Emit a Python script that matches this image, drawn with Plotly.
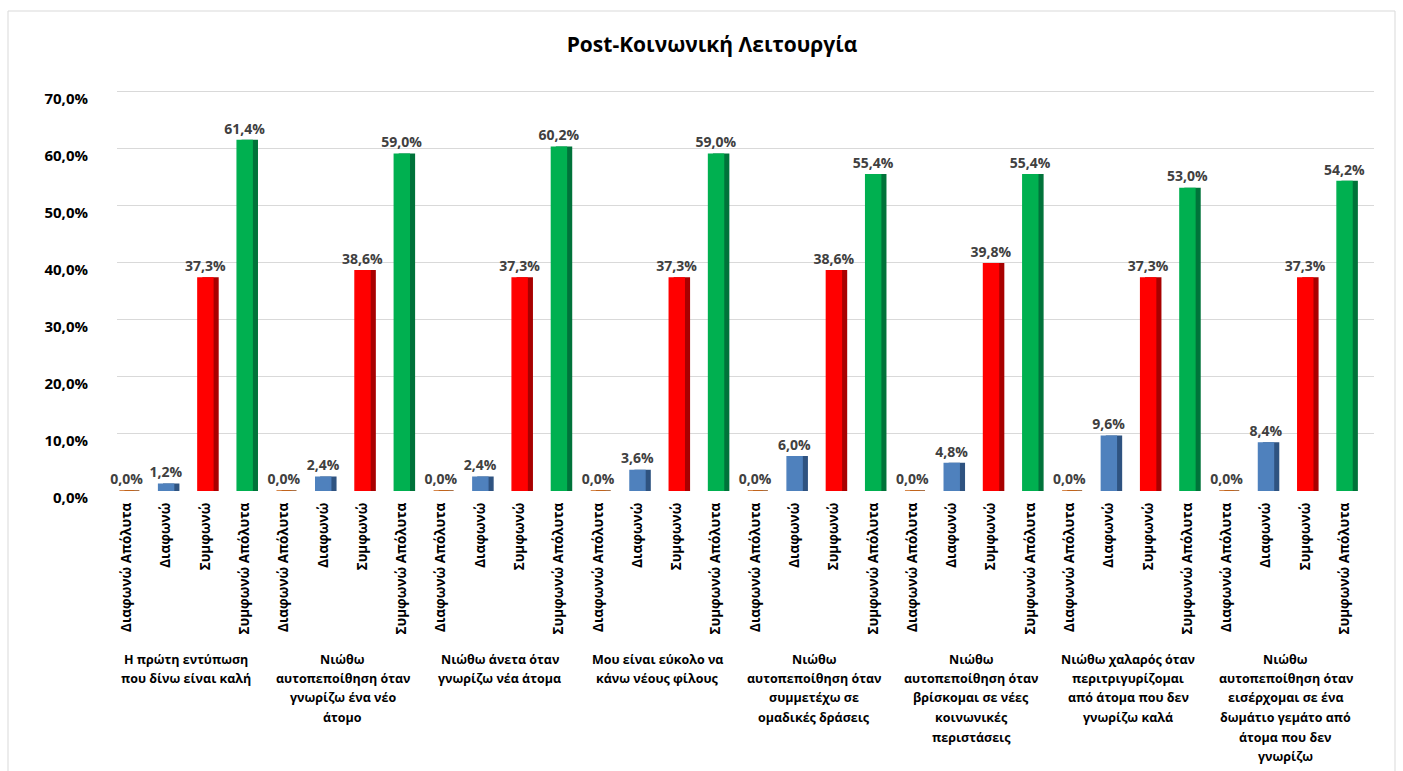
import plotly.graph_objects as go

# ---- data -------------------------------------------------------------
statements = [
    ["Η πρώτη εντύπωση", "που δίνω είναι καλή"],
    ["Νιώθω", "αυτοπεποίθηση όταν", "γνωρίζω ένα νέο", "άτομο"],
    ["Νιώθω άνετα όταν", "γνωρίζω νέα άτομα"],
    ["Μου είναι εύκολο να", "κάνω νέους φίλους"],
    ["Νιώθω", "αυτοπεποίθηση όταν", "συμμετέχω σε", "ομαδικές δράσεις"],
    ["Νιώθω", "αυτοπεποίθηση όταν", "βρίσκομαι σε νέες", "κοινωνικές", "περιστάσεις"],
    ["Νιώθω χαλαρός όταν", "περιτριγυρίζομαι", "από άτομα που δεν", "γνωρίζω καλά"],
    ["Νιώθω", "αυτοπεποίθηση όταν", "εισέρχομαι σε ένα", "δωμάτιο γεμάτο από", "άτομα που δεν", "γνωρίζω"],
]
responses = ["Διαφωνώ Απόλυτα", "Διαφωνώ", "Συμφωνώ", "Συμφωνώ Απόλυτα"]

diafono_apolyta = [0.0, 0.0, 0.0, 0.0, 0.0, 0.0, 0.0, 0.0]
diafono = [1.2, 2.4, 2.4, 3.6, 6.0, 4.8, 9.6, 8.4]
symfono = [37.3, 38.6, 37.3, 37.3, 38.6, 39.8, 37.3, 37.3]
symfono_apolyta = [61.4, 59.0, 60.2, 59.0, 55.4, 55.4, 53.0, 54.2]

y_ticks = [0, 10, 20, 30, 40, 50, 60, 70]
y_tick_text = [f"{v:.1f}%".replace(".", ",") for v in y_ticks]

# ---- style --------------------------------------------------------------
FONT = "Open Sans"
front_colors = ["#C9600F", "#4F81BD", "#FF0000", "#00B050"]
side_colors = ["#8E430A", "#2F5380", "#A80000", "#00733A"]

W, H = 1403, 771
M_L, M_R, M_T, M_B = 117, 29, 88, 280
PLOT_H = H - M_T - M_B
Y_MAX = 70.6

series = [diafono_apolyta, diafono, symfono, symfono_apolyta]
n_groups = len(statements)
n_resp = len(responses)

fig = go.Figure()

# darker side faces, drawn first so the front faces sit on top
for r, vals in enumerate(series):
    xs = [g * n_resp + r for g in range(n_groups)]
    fig.add_trace(go.Bar(
        x=xs, y=vals, width=0.38, offset=-0.06,
        marker=dict(color=side_colors[r], line=dict(color=side_colors[r], width=1.5)),
        hoverinfo="skip", showlegend=False,
    ))

# front faces with value labels
for r, vals in enumerate(series):
    xs = [g * n_resp + r for g in range(n_groups)]
    fig.add_trace(go.Bar(
        x=xs, y=vals, width=0.38, offset=-0.19,
        name=responses[r],
        marker=dict(color=front_colors[r], line=dict(color=front_colors[r], width=1.5)),
        text=vals, texttemplate="%{y:.1f}%", textposition="outside",
        constraintext="none",
        textfont=dict(family=FONT, size=14, color="#404040", weight="bold"),
        cliponaxis=False, showlegend=False,
    ))

tick_vals = list(range(n_groups * n_resp))
tick_text = [responses[i % n_resp] for i in tick_vals]

# statement labels under each group, one annotation per line
LINE0 = 659
LINE_STEP = 19.5
for g, lines in enumerate(statements):
    cx = g * n_resp + (n_resp - 1) / 2
    for i, line in enumerate(lines):
        py = LINE0 + i * LINE_STEP
        fig.add_annotation(
            x=cx, xref="x", y=(H - M_B - py) / PLOT_H, yref="paper",
            text=line, showarrow=False, xanchor="center", yanchor="middle",
            font=dict(family=FONT, size=12.5, color="#000000", weight="bold"),
        )

# chart-area border
fig.add_shape(
    type="rect", xref="paper", yref="paper",
    x0=(8 - M_L) / (W - M_L - M_R), x1=(1395 - M_L) / (W - M_L - M_R),
    y0=(H - M_B - 790) / PLOT_H, y1=(H - M_B - 11) / PLOT_H,
    line=dict(color="#D9D9D9", width=1), fillcolor="rgba(0,0,0,0)", layer="below",
)

fig.update_layout(
    width=W, height=H,
    margin=dict(l=M_L, r=M_R, t=M_T, b=M_B),
    paper_bgcolor="#FFFFFF", plot_bgcolor="#FFFFFF",
    separators=",.",
    barmode="overlay",
    title=dict(
        text="Post-Κοινωνική Λειτουργία", x=712 / W, xanchor="center",
        y=1 - 45 / H, yanchor="middle", xref="container", yref="container",
        font=dict(family=FONT, size=21, color="#000000", weight="bold"),
    ),
    xaxis=dict(
        range=[-0.25, n_groups * n_resp - 0.25],
        tickmode="array", tickvals=tick_vals, ticktext=tick_text,
        tickangle=-90, showgrid=False, zeroline=False, showline=False,
        ticks="", ticklabelstandoff=8,
        tickfont=dict(family=FONT, size=13.5, color="#000000", weight="bold"),
    ),
    yaxis=dict(
        range=[0, Y_MAX], tickmode="array", tickvals=y_ticks, ticktext=y_tick_text,
        showgrid=True, gridcolor="#D9D9D9", gridwidth=1,
        zeroline=False, showline=False, ticks="",
        ticklabelstandoff=28, ticklabelshift=7,
        tickfont=dict(family=FONT, size=15, color="#000000", weight="bold"),
    ),
    font=dict(family=FONT),
)

fig.write_html("out.html")
